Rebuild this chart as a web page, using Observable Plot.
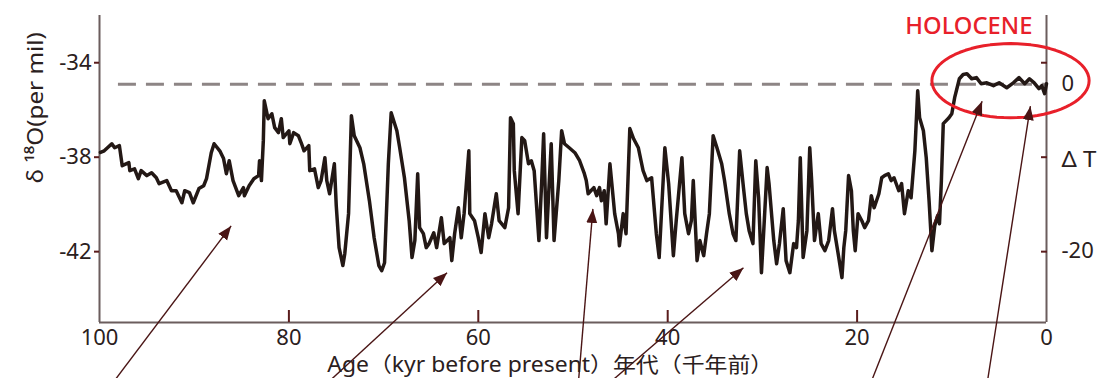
<!DOCTYPE html>
<html><head><meta charset="utf-8">
<script src="https://cdn.jsdelivr.net/npm/d3@7"></script>
<script src="https://cdn.jsdelivr.net/npm/@observablehq/plot@0.6"></script>
<style>body{margin:0;background:#fff}#chart svg{display:block}</style>
</head><body><div id="chart"></div>
<script>
// Age (kyr before present)
const ages = [99.9,99.5,98.7,98.4,97.9,97.6,96.9,96.8,96.3,95.9,95.6,95.0,94.5,94.0,93.7,92.9,92.4,91.9,91.3,91.0,90.5,90.1,89.5,89.0,88.7,88.2,87.9,87.3,86.9,86.6,86.3,85.9,85.3,84.8,84.7,84.2,83.7,83.2,83.1,82.9,82.7,82.6,82.2,81.8,81.5,81.1,80.8,80.6,80.0,79.9,79.5,79.0,78.7,78.4,77.9,77.8,77.3,76.9,76.6,76.2,76.0,75.7,75.2,75.0,74.7,74.3,74.1,73.7,73.4,73.1,72.5,72.1,71.5,71.0,70.5,70.2,69.9,69.5,69.2,68.6,68.3,67.8,67.3,67.0,66.7,66.4,66.2,65.8,65.5,65.2,64.7,64.4,63.9,63.6,63.0,62.8,62.5,62.1,61.8,61.5,61.0,60.9,60.4,60.0,59.7,59.3,58.9,58.6,58.1,57.8,57.2,56.8,56.6,56.3,56.2,55.8,55.4,55.1,54.7,54.4,54.1,53.6,53.3,53.1,52.8,52.5,52.3,52.0,51.5,51.2,50.9,50.4,49.8,49.3,48.8,48.6,48.4,47.8,47.5,47.2,47.0,46.7,46.5,46.1,45.9,45.6,45.2,45.1,44.7,44.4,44.0,43.6,43.1,42.6,42.2,41.7,41.2,40.9,40.3,39.9,39.4,39.1,38.5,38.2,37.8,37.5,37.3,36.9,36.6,36.2,35.9,35.6,35.2,34.8,34.3,34.0,33.5,33.1,32.8,32.4,32.0,31.7,31.4,31.0,30.7,30.4,30.1,29.8,29.5,29.3,28.8,28.5,28.2,27.8,27.5,27.1,26.7,26.4,26.2,26.0,25.7,25.3,25.0,24.8,24.5,24.1,23.8,23.4,23.0,22.6,22.4,22.0,21.6,21.4,21.2,20.9,20.6,20.4,20.2,19.9,19.5,19.2,18.8,18.5,18.2,17.7,17.4,17.1,16.7,16.4,16.1,15.6,15.3,15.0,14.6,14.3,13.9,13.6,13.4,13.0,12.7,12.4,12.1,11.8,11.5,11.3,11.1,10.9,10.3,10.0,9.7,9.2,8.8,8.4,7.9,7.4,6.9,6.3,5.6,5.0,4.2,3.5,2.9,2.3,1.8,1.3,0.8,0.5,0.2,0.0];
// δ18O (per mil)
const d18O = [-37.80,-37.73,-37.43,-37.60,-37.51,-38.36,-38.23,-38.57,-38.49,-38.91,-38.57,-38.78,-38.66,-38.87,-39.12,-38.99,-39.42,-39.42,-39.93,-39.42,-39.50,-39.93,-39.33,-39.21,-38.91,-37.81,-37.43,-37.73,-38.06,-38.70,-38.15,-38.99,-39.63,-39.29,-39.63,-39.21,-38.91,-38.78,-38.15,-38.99,-37.30,-35.61,-36.37,-36.16,-36.75,-36.96,-36.37,-37.17,-36.88,-37.43,-36.96,-37.09,-37.39,-37.73,-37.51,-38.57,-38.49,-39.29,-38.99,-38.02,-38.99,-39.55,-38.28,-40.05,-41.83,-42.59,-42.09,-40.39,-36.24,-37.09,-37.60,-38.28,-39.84,-41.41,-42.59,-42.81,-42.47,-38.28,-36.12,-36.88,-37.60,-38.87,-40.69,-42.25,-41.53,-38.70,-40.98,-41.24,-41.83,-41.66,-41.20,-41.83,-40.56,-41.66,-41.41,-42.38,-41.24,-40.14,-41.41,-40.39,-37.73,-40.39,-40.69,-41.41,-42.04,-40.39,-41.41,-40.82,-39.55,-40.69,-40.98,-40.14,-36.33,-36.58,-38.57,-40.39,-37.17,-37.30,-38.28,-38.15,-38.57,-41.53,-38.99,-37.01,-41.41,-38.99,-37.43,-41.53,-38.99,-36.88,-37.43,-37.60,-37.81,-38.15,-38.70,-38.99,-39.55,-39.29,-39.63,-39.29,-39.84,-39.42,-40.82,-38.28,-39.12,-40.39,-41.24,-41.75,-40.39,-41.24,-36.79,-37.22,-37.60,-38.57,-38.99,-38.87,-41.24,-42.25,-37.60,-39.12,-42.17,-40.69,-38.02,-40.39,-41.24,-40.69,-38.99,-42.38,-41.53,-42.17,-41.24,-40.39,-37.09,-37.60,-38.28,-38.99,-40.39,-41.24,-41.53,-37.73,-39.29,-40.39,-41.11,-41.66,-38.15,-39.72,-42.89,-40.69,-38.44,-39.12,-41.53,-42.51,-41.66,-40.18,-42.38,-42.89,-41.66,-41.83,-40.69,-38.02,-42.25,-41.11,-37.60,-38.99,-41.53,-40.39,-41.66,-41.96,-41.53,-40.18,-41.11,-42.09,-43.10,-41.83,-41.11,-38.78,-39.42,-41.11,-41.96,-40.39,-40.69,-40.98,-40.69,-39.63,-40.14,-39.55,-38.87,-38.78,-38.70,-38.99,-38.87,-39.42,-39.12,-40.39,-39.42,-39.72,-37.73,-35.19,-36.33,-36.88,-38.02,-39.84,-41.96,-40.90,-40.48,-40.82,-38.99,-36.58,-36.33,-36.16,-35.48,-34.68,-34.50,-34.47,-34.68,-34.63,-34.89,-34.85,-34.97,-34.85,-35.06,-34.85,-34.63,-34.89,-34.68,-34.85,-35.10,-34.97,-35.31,-34.89];

const xTickValues = [100, 80, 60, 40, 20, 0];
const xInnerTicks = [80, 60, 40, 20];
const yTickValues = [-34, -38, -42];
const presentLevel = -34.91;             // dashed reference (ΔT = 0)
const dTLabels = ["0", "Δ T", "-20"];
const dTLabelPos = [-34.91, -38.1, -41.96]; // δ18O positions of right-hand labels
const xTitle = "Age（kyr before present）年代（千年前）";
const yTitle = "δ ¹⁸O(per mil)";
const holoceneText = "HOLOCENE";
const holoceneAt = {age: 8.2, d: -32.45};
const ellipse = {age: 3.8, d: -34.76, rAge: 8.3, rD: 1.57};
// arrows: from (age, δ) below the axis to (age, δ) on the curve
const arrowFromAge = [98.3, 75.5, 49.4, 45.7, 18.4, 6.2];
const arrowToAge   = [86.1, 63.3, 47.9, 32.0, 6.8, 1.7];
const arrowFromD   = [-47.4, -47.4, -47.4, -47.4, -47.4, -47.4];
const arrowToD     = [-40.91, -42.89, -40.19, -42.68, -35.63, -35.84];

const series = ages.map((a, i) => ({age: a, d: d18O[i]}));
const arrows = arrowFromAge.map((a, i) => ({x1: a, y1: arrowFromD[i], x2: arrowToAge[i], y2: arrowToD[i]}));
const ell = d3.range(0, 73).map(k => {
  const t = k / 72 * 2 * Math.PI;
  return {age: ellipse.age + ellipse.rAge * Math.cos(t), d: ellipse.d + ellipse.rD * Math.sin(t)};
});

function filledArrow(color) {
  const m = d3.create("svg:marker")
    .attr("viewBox", "-14 -6 14 12")
    .attr("markerWidth", 14).attr("markerHeight", 12)
    .attr("markerUnits", "userSpaceOnUse")
    .attr("refX", 0).attr("refY", 0)
    .attr("orient", "auto");
  m.append("path").attr("d", "M-14,-5.5L0,0L-14,5.5Z").attr("fill", color).attr("stroke", "none");
  return m.node();
}

const FONT = "'Noto Sans','Noto Sans CJK JP',sans-serif";
const AXIS = "#6b5d5d";
const TICK = "#5a1c1c";
const INK = "#2a2020";

const plot = Plot.plot({
  width: 1100, height: 378,
  marginLeft: 99, marginRight: 54, marginTop: 15, marginBottom: 56,
  style: {fontFamily: FONT, background: "#fff", overflow: "visible"},
  x: {domain: [100, 0]},
  y: {domain: [-45, -32]},
  marks: [
    Plot.ruleY([presentLevel], {x1: 98, x2: 0, stroke: "#8d8585", strokeWidth: 3, strokeDasharray: "18,10"}),
    Plot.ruleX([100], {stroke: AXIS, strokeWidth: 2}),
    Plot.ruleX([0], {stroke: AXIS, strokeWidth: 2}),
    Plot.ruleY([-45], {stroke: AXIS, strokeWidth: 2}),
    Plot.axisY({ticks: yTickValues, tickSize: 5, tickPadding: 3, stroke: TICK, fill: INK, strokeWidth: 2, fontSize: 22, label: null, tickFormat: d => `${d}`}),
    Plot.axisY({anchor: "right", ticks: yTickValues, tickSize: -6, stroke: TICK, strokeWidth: 2, label: null, tickFormat: () => ""}),
    Plot.axisX({ticks: xInnerTicks, tickSize: -12, stroke: TICK, strokeWidth: 2, label: null, tickFormat: () => ""}),
    Plot.axisX({ticks: xTickValues, tickSize: 0, tickPadding: 7, fill: INK, fontSize: 22, label: null, tickFormat: d => `${d}`}),
    Plot.text(dTLabels, {x: 0, y: (d, i) => dTLabelPos[i], text: d => d, dx: 15, textAnchor: "start", fontSize: 22, fill: INK}),
    Plot.line(series, {x: "age", y: "d", stroke: "#231815", strokeWidth: 3.5, strokeLinejoin: "round"}),
    Plot.line(ell, {x: "age", y: "d", stroke: "#e8202a", strokeWidth: 3}),
    Plot.link(arrows, {x1: "x1", y1: "y1", x2: "x2", y2: "y2", stroke: "#4a1515", strokeWidth: 1.4, markerEnd: filledArrow}),
    Plot.text([holoceneText], {x: holoceneAt.age, y: holoceneAt.d, text: d => d, fontSize: 23, fill: "#e8202a", fontWeight: 500}),
    Plot.text([xTitle], {x: 52.4, frameAnchor: "bottom", text: d => d, dy: 43, lineAnchor: "middle", fontSize: 21, fill: INK}),
    Plot.text([yTitle], {y: -39.1, frameAnchor: "left", text: d => d, dx: -64, rotate: -90, lineAnchor: "middle", fontSize: 22, fill: INK})
  ]
});
document.getElementById("chart").appendChild(plot);
const svg = d3.select(plot);
const fit = (txt, len) => svg.selectAll("text").filter(function() { return this.textContent === txt; })
  .attr("textLength", len).attr("lengthAdjust", "spacingAndGlyphs");
fit(xTitle, 446);
fit(yTitle, 151);
fit(holoceneText, 127);
fit("Δ T", 35);
</script>
</body></html>
